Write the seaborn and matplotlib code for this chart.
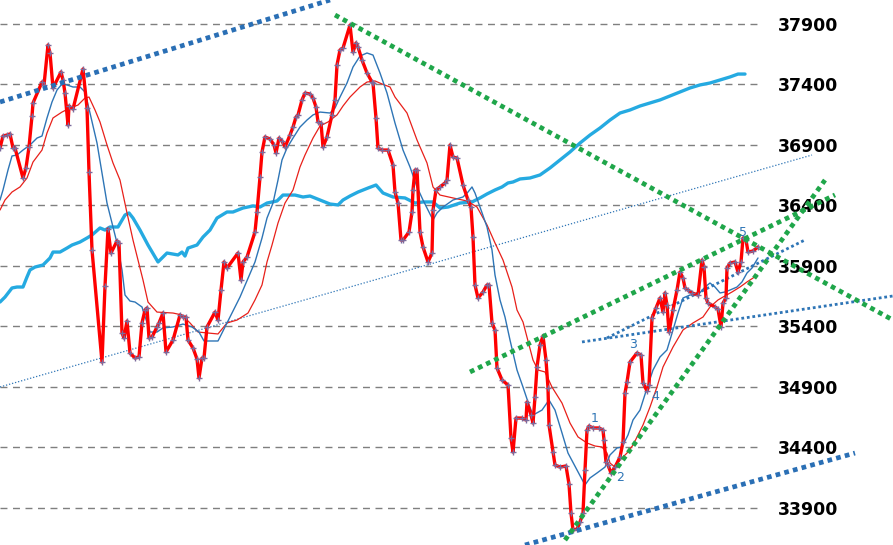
import numpy as np
import pandas as pd
import matplotlib.pyplot as plt
import seaborn as sns

# session index (t) and index level
price_t = [0, 3, 7, 10, 13, 15, 23, 26, 29, 32, 33, 42, 44, 48, 50, 53, 61, 63, 65, 68, 69, 73, 83, 87, 89, 92,
           102, 105, 108, 111, 117, 119, 122, 124, 127, 130, 135, 139, 142, 145, 147, 149, 152, 157, 159, 163,
           166, 173, 180, 183, 186, 188, 193, 197, 199, 202, 204, 207, 215, 218, 221, 224, 227, 238, 241, 243,
           247, 255, 257, 260, 262, 265, 270, 274, 276, 279, 282, 285, 290, 293, 296, 298, 302, 305, 310, 313,
           316, 318, 321, 323, 327, 332, 335, 337, 340, 343, 350, 353, 356, 358, 362, 367, 372, 373, 376, 378,
           382, 388, 393, 395, 398, 401, 403, 409, 412, 413, 415, 417, 420, 423, 428, 432, 433, 436, 440, 445,
           447, 450, 453, 457, 463, 468, 471, 473, 475, 478, 483, 487, 489, 492, 495, 497, 502, 508, 511, 513,
           516, 522, 526, 527, 531, 533, 535, 537, 540, 543, 546, 548, 549, 553, 555, 560, 566, 569, 571, 573,
           577, 580, 583, 585, 587, 589, 593, 599, 603, 604, 606, 608, 611, 615, 620, 623, 625, 627, 630, 637,
           641, 643, 647, 649, 652, 656, 660, 663, 665, 667, 669, 673, 677, 680, 683, 685, 688, 692, 698, 702,
           704, 706, 708, 715, 718, 721, 723, 726, 727, 730, 735, 738, 741, 743, 746, 748, 753, 758]
price = [36875, 36974, 36982, 36991, 36875, 36875, 36627, 36710, 36883, 37139, 37247, 37420, 37396, 37726, 37660,
         37371, 37503, 37437, 37329, 37065, 37222, 37197, 37528, 37205, 36677, 36032,
         35106, 35734, 36205, 36007, 36106, 36090, 35346, 35305, 35445, 35181, 35139, 35148, 35429, 35536, 35553,
         35305, 35313, 35396, 35429, 35511,
         35189, 35288, 35495, 35478, 35478, 35288, 35222, 35131, 34974, 35139, 35139, 35396, 35519, 35453, 35701,
         35933, 35883, 36007, 35784, 35933,
         35974, 36181, 36346, 36635, 36842, 36966, 36949, 36900, 36834, 36957, 36933, 36883, 36982, 37048, 37131,
         37148, 37272, 37329, 37321, 37288,
         37214, 37090, 37081, 36883, 36966, 37148, 37272, 37561, 37685, 37701, 37891, 37668, 37743, 37710, 37602,
         37495, 37420, 37412, 37123, 36875,
         36858, 36858, 36734, 36511, 36420, 36114, 36114, 36181, 36346, 36528, 36693, 36693, 36181, 36057, 35933,
         36007, 36362, 36528, 36553, 36586,
         36610, 36900, 36800, 36792, 36569, 36445, 36387, 36139, 35743, 35635, 35685, 35743, 35743, 35429, 35371,
         35057, 34958, 34916, 34478, 34362,
         34643, 34643, 34627, 34776, 34668, 34602, 34817, 35065, 35247, 35321, 35123, 34891, 34586, 34362, 34255,
         34238, 34247, 34098, 33858, 33718,
         33726, 33784, 33858, 34214, 34544, 34577, 34561, 34561, 34544, 34462, 34280, 34255, 34189, 34238, 34321,
         34445, 34850, 34941, 35106, 35181,
         35164, 34933, 34867, 34916, 35470, 35553, 35635, 35519, 35677, 35577, 35354, 35536, 35701, 35850, 35800,
         35718, 35701, 35677, 35660, 35949,
         35891, 35635, 35594, 35561, 35544, 35396, 35594, 35635, 35883, 35924, 35933, 35850, 35933, 36131, 36114,
         36015, 36024, 36057]

# short moving average (thin blue)
ma_fast_t = [0, 3, 8, 12, 17, 23, 30, 37, 42, 47, 52, 57, 62, 67, 73, 80, 85, 90, 97, 102, 107, 112, 117, 122,
             125, 130, 135, 142, 150, 157, 163, 173, 183, 192, 199, 204, 218, 227, 240, 255, 262, 267, 273, 278,
             282, 287, 293, 300, 307, 313, 320, 330, 335, 340, 347, 353, 360, 367, 373, 380, 387, 395, 403, 410,
             417, 423, 428, 433, 437, 443, 453, 463, 468, 472, 475, 480, 487, 492, 495, 500, 505, 510, 517, 523,
             528, 533, 542, 549, 555, 562, 568, 577, 585, 590, 597, 605, 610, 617, 622, 628, 633, 640, 647, 653,
             660, 667, 673, 678, 683, 690, 698, 705, 710, 715, 720, 725, 730, 737, 742, 747, 752, 758]
ma_fast = [36445, 36528, 36693, 36809, 36817, 36858, 36900, 36957, 36974, 37123, 37255, 37354, 37404, 37396,
           37379, 37379, 37338, 37164, 36916, 36668, 36420, 36255, 36090, 35867,
           35660, 35610, 35602, 35561, 35354, 35354, 35388, 35396, 35420, 35396, 35354, 35280, 35280, 35429, 35643,
           35933, 36131, 36296, 36420, 36610,
           36776, 36875, 36957, 37048, 37106, 37148, 37172, 37164, 37205, 37296, 37412, 37544, 37635, 37660, 37643,
           37495, 37329, 37081, 36858, 36718,
           36553, 36445, 36362, 36280, 36338, 36387, 36445, 36470, 36511, 36553, 36503, 36387, 36222, 36032, 35825,
           35619, 35478, 35288, 35040, 34899,
           34776, 34668, 34709, 34792, 34709, 34520, 34354, 34214, 34090, 34148, 34189, 34238, 34338, 34396, 34404,
           34503, 34627, 34709, 34891, 35040,
           35148, 35206, 35371, 35511, 35635, 35660, 35660, 35726, 35759, 35726, 35677, 35685, 35701, 35726, 35768,
           35842, 35883, 35966]

# long moving average (thin red)
ma_slow_t = [0, 5, 12, 20, 27, 33, 42, 47, 53, 62, 70, 78, 85, 89, 95, 100, 107, 113, 120, 127, 133, 143, 148,
             157, 173, 182, 190, 198, 208, 218, 227, 237, 248, 255, 262, 267, 272, 278, 285, 293, 300, 305, 313,
             320, 328, 337, 343, 350, 360, 367, 375, 382, 390, 395, 407, 417, 427, 433, 440, 453, 467, 477, 487,
             495, 503, 512, 517, 523, 533, 538, 545, 552, 562, 570, 578, 587, 595, 602, 607, 610, 615, 620, 627,
             633, 643, 650, 657, 663, 673, 683, 693, 703, 710, 718, 723, 732, 740, 747, 753, 757]
ma_slow = [36362, 36445, 36511, 36553, 36627, 36759, 36858, 36999, 37123, 37172, 37205, 37230, 37288, 37296,
           37189, 37090, 36900, 36751, 36610, 36338, 36114, 35784, 35602,
           35519, 35511, 35495, 35429, 35354, 35346, 35338, 35429, 35453, 35511, 35619, 35743, 35933, 36073, 36255,
           36420, 36528, 36718, 36817, 36957,
           37057, 37090, 37148, 37222, 37296, 37379, 37420, 37429, 37404, 37379, 37296, 37164, 36941, 36751, 36553,
           36486, 36462, 36437, 36387, 36239,
           36090, 35949, 35726, 35536, 35437, 35123, 35040, 35024, 34899, 34767, 34602, 34487, 34437, 34412, 34404,
           34354, 34271, 34238, 34296, 34354,
           34420, 34586, 34734, 34900, 35065, 35230, 35371, 35429, 35478, 35561, 35619, 35643, 35685, 35726, 35768,
           35800, 35825]

# second index (thick cyan)
other_t = [0, 5, 12, 17, 23, 27, 30, 35, 43, 50, 53, 60, 67, 72, 80, 87, 92, 100, 105, 110, 118, 125, 129, 133,
           140, 148, 158, 167, 178, 182, 185, 188, 197, 203, 210, 217, 222, 227, 233, 243, 253, 260, 267, 277,
           283, 295, 303, 310, 320, 330, 338, 343, 350, 358, 368, 376, 383, 393, 405, 415, 423, 433, 440, 448,
           460, 472, 480, 487, 495, 502, 508, 513, 520, 530, 540, 550, 560, 570, 580, 590, 600, 610, 620, 630,
           640, 650, 660, 670, 680, 690, 700, 710, 720, 730, 738, 745]
other = [35602, 35643, 35718, 35726, 35726, 35809, 35867, 35891, 35908, 35966, 36015, 36015, 36048, 36073, 36098,
         36131, 36156, 36214, 36197, 36222, 36222, 36321, 36338, 36296,
         36197, 36073, 35933, 36007, 35991, 36015, 35982, 36048, 36073, 36139, 36197, 36296, 36321, 36346, 36346,
         36379, 36396, 36387, 36420, 36437,
         36486, 36486, 36470, 36478, 36445, 36412, 36404, 36445, 36478, 36511, 36544, 36569, 36503, 36470, 36462,
         36420, 36429, 36429, 36379, 36387,
         36420, 36429, 36462, 36495, 36528, 36553, 36586, 36594, 36619, 36627, 36652, 36710, 36776, 36842, 36916,
         36982, 37040, 37106, 37164, 37189,
         37222, 37247, 37272, 37305, 37338, 37371, 37396, 37412, 37437, 37462, 37486, 37486]

# trend lines: (t0, v0, t1, v1)
trend_thick_blue = [(0, 37255, 330, 38098), (525, 33594, 855, 34354)]
trend_green = [(335, 37974, 893, 35453), (470, 35024, 835, 36487), (565, 33635, 825, 36610)]
trend_mid_blue = [(582, 35272, 893, 35652), (607, 35305, 805, 36115)]
trend_thin_blue = [(0, 34900, 812, 36817)]

wave_labels = ["1", "2", "3", "4", "5"]
wave_t = [595, 620, 633, 655, 743]
wave_v = [34640, 34150, 35250, 34820, 36180]

levels = list(range(33900, 38000, 500))

sns.set_theme(style="white")
plt.rcParams['font.family'] = ['DejaVu Sans']

fig = plt.figure(figsize=(8.93, 5.45), dpi=100)
ax = fig.add_axes([0, 0, 1, 1])

ax.hlines(levels, 0, 760, colors='#7f7f7f', linestyles=(0, (5, 4)), linewidth=1, zorder=1)

sns.lineplot(x=other_t, y=other, ax=ax, color='#25aae1', lw=2.4, estimator=None, sort=False, zorder=2)
sns.lineplot(x=ma_slow_t, y=ma_slow, ax=ax, color='#e8201a', lw=0.9, estimator=None, sort=False, zorder=3)
sns.lineplot(x=ma_fast_t, y=ma_fast, ax=ax, color='#2e75b6', lw=1.0, estimator=None, sort=False, zorder=3)

for t0, v0, t1, v1 in trend_thin_blue:
    sns.lineplot(x=[t0, t1], y=[v0, v1], ax=ax, color='#2e75b6', lw=0.9, linestyle=(0, (1, 1.5)), zorder=2)
for t0, v0, t1, v1 in trend_mid_blue:
    sns.lineplot(x=[t0, t1], y=[v0, v1], ax=ax, color='#2e75b6', lw=2.0, linestyle=(0, (1, 1)), zorder=4)

sns.lineplot(x=price_t, y=price, ax=ax, color='#ff0000', lw=2.4, estimator=None, sort=False,
             marker='+', markersize=5, markeredgecolor='#7b6b9d', mew=1, zorder=5)

for t0, v0, t1, v1 in trend_thick_blue:
    sns.lineplot(x=[t0, t1], y=[v0, v1], ax=ax, color='#2a6fb5', lw=3.4, linestyle=(0, (1, 0.9)), zorder=6)
for t0, v0, t1, v1 in trend_green:
    sns.lineplot(x=[t0, t1], y=[v0, v1], ax=ax, color='#1fa64a', lw=3.4, linestyle=(0, (1, 0.9)), zorder=6)

for lab, t, v in zip(wave_labels, wave_t, wave_v):
    ax.text(t, v, lab, color='#2e75b6', fontsize=9, ha='center', va='center', zorder=7)

ax.set_xlim(0, 893)
ax.set_ylim(33594, 38098)
ax.set_xticks([])
ax.yaxis.tick_right()
ax.set_yticks(levels)
ax.set_yticklabels([str(l) for l in levels])
ax.tick_params(axis='y', length=0, pad=-83, labelsize=12.5, labelcolor='black')
for lbl in ax.get_yticklabels():
    lbl.set_fontweight('bold')
ax.set_xlabel('')
ax.set_ylabel('')
for s in ax.spines.values():
    s.set_visible(False)

fig.savefig('out.png', dpi=100)
